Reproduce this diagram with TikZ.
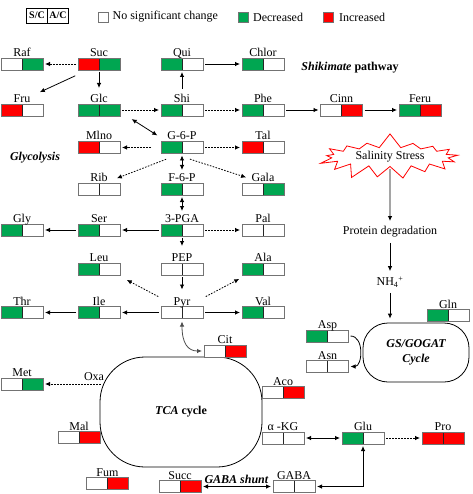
\documentclass[tikz,border=0pt]{standalone}
\usepackage{fontspec}
\setmainfont{Liberation Serif}
\usetikzlibrary{arrows.meta,shapes.symbols,positioning}
\definecolor{metgreen}{RGB}{0,166,81}
\definecolor{metred}{RGB}{255,0,0}
\tikzset{
  metbox/.style 2 args={draw=black!55, line width=0.8pt, minimum width=42pt,
    minimum height=12pt, inner sep=0pt, outer sep=0pt,
    path picture={
      \fill[#1] (path picture bounding box.south west) rectangle (path picture bounding box.north);
      \fill[#2] (path picture bounding box.south) rectangle (path picture bounding box.north east);
      \draw[black!85, line width=0.8pt] (path picture bounding box.south) -- (path picture bounding box.north);
    }},
  metlabel/.style={anchor=base, inner sep=0pt},
  legcell/.style={draw=black, line width=0.8pt, minimum width=21pt, minimum height=15pt,
    inner sep=0pt, outer sep=0pt, font=\fontsize{10}{12}\selectfont\bfseries},
  legsq/.style={draw=black!55, line width=0.8pt, minimum size=10pt, inner sep=0pt},
  link/.style={line width=0.8pt, shorten <=2pt, shorten >=2pt},
  dotlink/.style={link, dash pattern=on 1.6pt off 1.4pt},
  title/.style={font=\fontsize{12}{14}\selectfont\bfseries},
  cycle/.style={draw, line width=0.8pt, align=center},
}
\begin{document}
\begin{tikzpicture}
[x=1pt, y=-1pt, >={Latex[length=5pt,width=4.5pt]},
  font=\fontsize{12}{14}\selectfont]
\useasboundingbox (0,0) rectangle (472,494);
%% legend
\node[legcell] (sc) at (37,15.5) {S/C};
\node[legcell,right=0pt of sc] (ac) {A/C};
\node[legsq,fill=white] (nsc) at (103,17) {};
\node[anchor=west,inner sep=0pt] (nsc-t) at ([xshift=4pt]nsc.east) {No significant change};
\node[legsq,fill=metgreen] (dec) at (243.5,17) {};
\node[anchor=west,inner sep=0pt] (dec-t) at ([xshift=4pt]dec.east) {Decreased};
\node[legsq,fill=metred] (inc) at (328.5,17) {};
\node[anchor=west,inner sep=0pt] (inc-t) at ([xshift=5pt]inc.east) {Increased};
%% titles and cycles
\node[title] (shik) at (350,68) {\textit{Shikimate} pathway};
\node[title] (glyco) at (35,158) {\textit{Glycolysis}};
\node[cycle,rounded corners=45pt,minimum width=162pt,minimum height=110pt] (tca)
  at (181,412) {\bfseries\textit{TCA} cycle};
\node[cycle,rounded corners=25pt,minimum width=106pt,minimum height=59pt,
  font=\fontsize{12}{15}\selectfont\bfseries\itshape] (gsgogat) at (416,352.5) {GS/GOGAT\\Cycle};
\node[starburst,random starburst=7,starburst points=17,starburst point height=15pt,
  draw=red,fill=white,line width=0.8pt,minimum width=147pt,minimum height=49pt,
  inner sep=0pt] (stress) at (390,157) {Salinity Stress};
\node (protdeg) at (390,232) {Protein degradation};
\node (nh) at (390,282) {NH\textsubscript{4}\textsuperscript{+}};
\node (oxa) at (94,377) {Oxa};
\node[title] (shunt) at (236.5,479) {\textit{GABA shunt}};
%% nodes or vertices
\foreach \nodename/\lab/\x/\y/\cl/\cr in {
  raf/Raf/22/64/white/metgreen, suc/Suc/99/64/metred/metgreen,
  qui/Qui/182/64/metgreen/white, chlor/Chlor/263/64/metgreen/white,
  fru/Fru/22/110/metred/white, glc/Glc/99/110/metgreen/metgreen,
  shi/Shi/182/110/metgreen/white, phe/Phe/263/110/metgreen/white,
  cinn/Cinn/341.5/110/white/metred, feru/Feru/420/110/metgreen/metred,
  mlno/Mlno/99/147.5/metred/white, gsixp/G-6-P/182/147.5/metgreen/white,
  tal/Tal/263/147.5/metred/white, rib/Rib/99/189/white/white,
  fsixp/F-6-P/182/189/metgreen/white, gala/Gala/263/189/white/metgreen,
  gly/Gly/22/230/metgreen/white, ser/Ser/99/230/metgreen/white,
  pga/3-PGA/182/230/metgreen/white, pal/Pal/263/230/white/white,
  leu/Leu/99/269/metgreen/white, pep/PEP/182/269/white/white,
  ala/Ala/263/269/metgreen/white, thr/Thr/22/312.5/metgreen/white,
  ile/Ile/99/312.5/metgreen/white, pyr/Pyr/182/312.5/white/white,
  val/Val/263/312.5/metgreen/white, cit/Cit/225/351/white/metred,
  gln/Gln/448/315.5/metgreen/white, asp/Asp/327.5/336/metgreen/white,
  asn/Asn/327.5/366.5/white/white, met/Met/22/384/white/metgreen,
  aco/Aco/283/392.5/white/metred, mal/Mal/79/437.5/white/metred,
  akg/α -KG/283/438/white/white, glu/Glu/363/438/metgreen/white,
  pro/Pro/443/438/metred/metred, fum/Fum/107.5/483.5/white/metred,
  succ/Succ/180/486.5/white/metred, gaba/GABA/294/486.5/white/white} {
  \node[metbox={\cl}{\cr}] (\nodename) at (\x,\y) {};
  \node[metlabel] (\nodename-l) at ([yshift=1.5pt]\nodename.north) {\lab};
}
\coordinate (oxastart) at (tca.west |- met.east);
%% edges or lines
\draw[dotlink,->] (suc) -- (raf);
\draw[link,->] ([xshift=-1pt,yshift=-5pt]suc.south west) -- ([xshift=16pt,yshift=11pt]fru.north);
\draw[link,->] (suc.south) -- ([yshift=14pt]glc.north);
\draw[link,->] (qui) -- (chlor);
\draw[link,->] ([yshift=13pt]shi.north) -- (qui.south);
\draw[dotlink,->] (glc) -- (shi);
\draw[dotlink,->] (shi) -- (phe);
\draw[link,->] (phe) -- (cinn);
\draw[link,->] (cinn) -- (feru);
\draw[link,<->] ([xshift=10pt,yshift=-2pt]glc.south east) -- ([xshift=-2pt,yshift=5pt]gsixp.north west);
\draw[dotlink,->] ([xshift=-8pt]gsixp.west) -- (mlno.east);
\draw[dotlink,->] (gsixp) -- (tal);
\draw[dotlink,->] ([xshift=-14pt,yshift=-5pt]gsixp.south) -- ([xshift=-5pt,yshift=4pt]rib.north east);
\draw[dotlink,->] ([xshift=6pt,yshift=-5pt]gsixp.south) -- ([xshift=6pt,yshift=5pt]gala.north west);
\draw[link,<->] (gsixp.south) -- ([yshift=11pt]fsixp.north);
\draw[link,<->] (fsixp.south) -- ([yshift=11pt]pga.north);
\draw[link,->] (pga) -- (ser);
\draw[link,->] (ser) -- (gly);
\draw[dotlink,->] (pga) -- (pal);
\draw[link,->] (pga.south) -- ([yshift=15pt]pep.north);
\draw[link,->] (pep.south) -- ([yshift=15pt]pyr.north);
\draw[dotlink,->] ([xshift=-1pt,yshift=9pt]pyr.north west) -- ([xshift=5pt,yshift=-4pt]leu.south east);
\draw[dotlink,->] ([xshift=1pt,yshift=9pt]pyr.north east) -- ([xshift=-1pt,yshift=-3pt]ala.south west);
\draw[link,->] (pyr) -- (ile);
\draw[link,->] (ile) -- (thr);
\draw[link,->] (pyr) -- (val);
\draw[link,<->,black!70] ([yshift=-1pt]pyr.south) .. controls +(0,24) and +(-16,0) .. (cit.west);
\draw[dotlink,->] ([xshift=3pt]oxastart) -- (met.east);
\draw[link,<->] (akg) -- (glu);
\draw[dotlink,->] (glu) -- (pro);
\draw[link,<->] (gaba.east) -| (glu.south);
\draw[link,<->] (succ) -- (gaba);
\draw[link,->] (stress.south) -- (protdeg.north);
\draw[link,->] (protdeg) -- (nh);
\draw[link,->,shorten >=4pt] (nh.south) -- (nh.south |- gsgogat.north);
\draw[link,->] (asp.east) .. controls +(16,0) and +(14,0) .. (asn.east);
\end{tikzpicture}
\end{document}
